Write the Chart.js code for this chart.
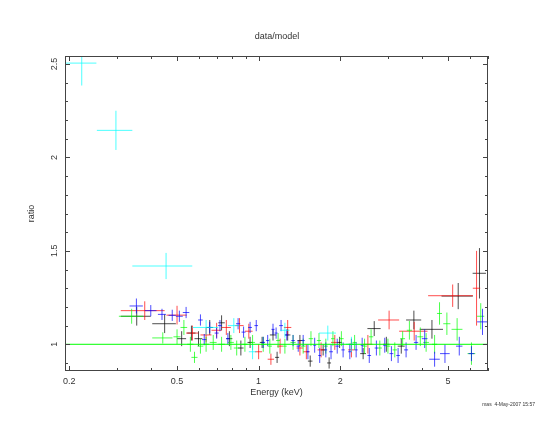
<!DOCTYPE html>
<html>
<head>
<meta charset="utf-8">
<script src="https://cdn.jsdelivr.net/npm/chart.js@4.4.1/dist/chart.umd.min.js"></script>
<style>
  html, body { margin: 0; padding: 0; background: #fff; }
</style>
</head>
<body>
<canvas id="graph" width="554" height="428"></canvas>
<script>
const ctx = document.getElementById("graph");

// tick values
const xMajor = [0.2, 0.5, 1, 2, 5];
const xMinor = [0.3, 0.4, 0.6, 0.7, 0.8, 0.9, 3, 4, 6, 7];
const yMajor = [1, 1.5, 2, 2.5];
const yMinor = [0.9, 1.1, 1.2, 1.3, 1.4, 1.6, 1.7, 1.8, 1.9, 2.1, 2.2, 2.3, 2.4];

// black
const blackE = [0.355, 0.45, 0.52, 0.565, 0.6, 0.66, 0.73, 0.78, 0.86, 0.93, 1.03, 1.13, 1.17, 1.28, 1.42, 1.55, 1.73, 1.82, 1.99, 2.2, 2.43, 2.67, 2.96, 3.36, 3.74, 4.36, 5.45, 6.53];
const blackDE = [0.045, 0.045, 0.02, 0.02, 0.02, 0.02, 0.02, 0.02, 0.02, 0.02, 0.02, 0.03, 0.02, 0.03, 0.03, 0.03, 0.03, 0.03, 0.04, 0.05, 0.06, 0.15, 0.08, 0.1, 0.24, 0.43, 0.72, 0.37];
const blackR = [1.15, 1.11, 1.03, 1.06, 1.03, 1.09, 1.115, 1.03, 0.98, 1.01, 1.01, 1.05, 0.93, 1.05, 1.02, 0.91, 0.97, 0.9, 1.01, 1.0, 0.95, 1.084, 1.0, 0.99, 1.13, 1.08, 1.258, 1.38];
const blackDR = [0.05, 0.05, 0.04, 0.04, 0.04, 0.04, 0.04, 0.04, 0.04, 0.03, 0.03, 0.03, 0.03, 0.03, 0.03, 0.03, 0.03, 0.03, 0.03, 0.03, 0.03, 0.04, 0.04, 0.04, 0.05, 0.05, 0.07, 0.135];

// red
const redE = [0.38, 0.5, 0.57, 0.64, 0.7, 0.76, 0.85, 0.92, 1.0, 1.11, 1.2, 1.28, 1.42, 1.5, 1.7, 1.91, 2.2, 2.53, 3.03, 3.75, 5.2, 6.37];
const redDE = [0.07, 0.043, 0.03, 0.03, 0.03, 0.03, 0.03, 0.03, 0.03, 0.03, 0.03, 0.04, 0.04, 0.04, 0.05, 0.06, 0.06, 0.1, 0.27, 0.45, 0.98, 0.2];
const redR = [1.18, 1.156, 1.06, 1.05, 1.075, 1.09, 1.1, 1.07, 0.96, 0.92, 0.99, 1.09, 0.98, 0.96, 0.97, 1.01, 0.97, 1.0, 1.13, 1.07, 1.26, 1.3];
const redDR = [0.05, 0.05, 0.04, 0.04, 0.04, 0.04, 0.04, 0.04, 0.04, 0.03, 0.04, 0.04, 0.04, 0.04, 0.04, 0.04, 0.04, 0.05, 0.05, 0.05, 0.06, 0.2];

// green
const greenE = [0.34, 0.443, 0.5, 0.53, 0.56, 0.58, 0.61, 0.64, 0.68, 0.73, 0.79, 0.83, 0.89, 0.95, 1.04, 1.1, 1.18, 1.25, 1.34, 1.46, 1.56, 1.67, 1.77, 1.88, 2.02, 2.26, 2.46, 2.6, 2.8, 3.0, 3.18, 3.4, 3.6, 3.95, 4.15, 4.46, 4.65, 4.95, 5.4, 6.1, 6.6];
const greenDE = [0.035, 0.038, 0.015, 0.015, 0.015, 0.015, 0.015, 0.015, 0.02, 0.02, 0.02, 0.02, 0.02, 0.02, 0.02, 0.02, 0.02, 0.02, 0.03, 0.03, 0.03, 0.03, 0.03, 0.03, 0.04, 0.04, 0.05, 0.05, 0.05, 0.06, 0.06, 0.07, 0.08, 0.1, 0.1, 0.1, 0.1, 0.15, 0.25, 0.2, 0.2];
const greenR = [1.15, 1.034, 1.04, 1.09, 1.0, 0.93, 0.99, 1.0, 1.01, 1.0, 1.01, 0.98, 1.0, 1.01, 1.0, 0.99, 1.02, 0.99, 1.01, 0.99, 1.03, 1.02, 0.99, 1.03, 1.03, 1.01, 0.99, 1.04, 0.98, 0.99, 0.97, 1.03, 1.075, 1.04, 1.01, 1.0, 1.165, 1.11, 1.08, 0.95, 1.15];
const greenDR = [0.04, 0.03, 0.04, 0.04, 0.04, 0.03, 0.04, 0.04, 0.04, 0.04, 0.04, 0.04, 0.04, 0.04, 0.04, 0.04, 0.04, 0.04, 0.04, 0.04, 0.04, 0.04, 0.04, 0.04, 0.04, 0.04, 0.04, 0.04, 0.04, 0.04, 0.04, 0.04, 0.05, 0.05, 0.05, 0.05, 0.06, 0.06, 0.06, 0.06, 0.07];

// blue
const blueE = [0.354, 0.4, 0.44, 0.48, 0.51, 0.54, 0.61, 0.63, 0.66, 0.7, 0.72, 0.77, 0.84, 0.88, 0.93, 0.98, 1.04, 1.08, 1.13, 1.16, 1.21, 1.27, 1.34, 1.4, 1.46, 1.52, 1.61, 1.68, 1.77, 1.85, 1.95, 2.05, 2.17, 2.29, 2.41, 2.56, 2.72, 2.92, 3.09, 3.27, 3.5, 3.81, 4.1, 4.46, 4.87, 5.5, 6.1, 6.7];
const blueDE = [0.02, 0.02, 0.015, 0.015, 0.015, 0.015, 0.012, 0.012, 0.012, 0.012, 0.012, 0.012, 0.015, 0.015, 0.015, 0.015, 0.015, 0.015, 0.015, 0.015, 0.02, 0.02, 0.02, 0.02, 0.02, 0.02, 0.02, 0.02, 0.02, 0.03, 0.03, 0.03, 0.03, 0.03, 0.03, 0.04, 0.04, 0.04, 0.05, 0.05, 0.06, 0.07, 0.1, 0.2, 0.2, 0.15, 0.15, 0.3];
const blueR = [1.205, 1.18, 1.16, 1.155, 1.15, 1.17, 1.13, 1.025, 1.09, 1.06, 1.1, 1.03, 1.11, 1.065, 1.09, 1.1, 1.01, 1.02, 1.08, 1.06, 1.1, 1.05, 1.02, 0.99, 1.02, 0.96, 0.995, 0.94, 0.97, 0.96, 0.99, 0.97, 0.96, 0.97, 0.995, 0.94, 0.98, 0.995, 0.95, 0.94, 0.97, 1.01, 1.03, 0.92, 0.95, 0.99, 0.95, 1.12];
const blueDR = [0.04, 0.03, 0.03, 0.03, 0.03, 0.03, 0.03, 0.03, 0.03, 0.03, 0.03, 0.03, 0.03, 0.03, 0.03, 0.03, 0.03, 0.03, 0.03, 0.03, 0.03, 0.03, 0.03, 0.03, 0.03, 0.04, 0.04, 0.04, 0.04, 0.04, 0.04, 0.04, 0.04, 0.04, 0.04, 0.04, 0.04, 0.04, 0.04, 0.04, 0.04, 0.04, 0.05, 0.04, 0.05, 0.05, 0.04, 0.07];

// cyan
const cyanE = [0.2225, 0.2975, 0.4555, 0.64, 0.81, 0.95, 1.25, 1.8, 2.2];
const cyanDE = [0.0295, 0.0445, 0.1135, 0.07, 0.04, 0.03, 0.05, 0.13, 0.1];
const cyanR = [2.505, 2.145, 1.419, 1.09, 1.1, 0.96, 1.075, 1.06, 1.0];
const cyanDR = [0.12, 0.105, 0.07, 0.04, 0.04, 0.04, 0.04, 0.04, 0.04];

// model
const modelE = [0.18, 7.5];
const modelR = [1, 1];

const series = [
  { e: blackE, de: blackDE, r: blackR, dr: blackDR, color: "#000000", order: 5 },
  { e: redE, de: redDE, r: redR, dr: redDR, color: "#ff0000", order: 4 },
  { e: greenE, de: greenDE, r: greenR, dr: greenDR, color: "#00ff00", order: 3 },
  { e: blueE, de: blueDE, r: blueR, dr: blueDR, color: "#0000ff", order: 2 },
  { e: cyanE, de: cyanDE, r: cyanR, dr: cyanDR, color: "#00ffff", order: 1 },
];

const datasets = series.map((s) => ({
  type: "scatter",
  data: s.e.map((e, i) => ({ x: e, y: s.r[i], dx: s.de[i], dy: s.dr[i] })),
  borderColor: s.color,
  backgroundColor: s.color,
  pointRadius: 0,
  showLine: false,
  order: s.order,
  errorBars: true,
}));

datasets.push({
  type: "line",
  data: modelE.map((e, i) => ({ x: e, y: modelR[i] })),
  borderColor: "#00ff00",
  borderWidth: 1,
  pointRadius: 0,
  order: 0,
});

const font = { family: '"Liberation Sans", Arial, sans-serif', size: 9, weight: "normal" };
const ink = "#333333";

// crosses: x error and y error for each point
const errorBars = {
  id: "errorBars",
  afterDatasetDraw(chart, args) {
    const ds = chart.data.datasets[args.index];
    if (!ds.errorBars) return;
    const { ctx, chartArea: a, scales: { x, y } } = chart;
    ctx.save();
    ctx.beginPath();
    ctx.rect(a.left, a.top, a.right - a.left, a.bottom - a.top);
    ctx.clip();
    ctx.globalAlpha = 0.7;
    ctx.strokeStyle = ds.borderColor;
    ctx.lineWidth = 1;
    ctx.beginPath();
    ds.data.forEach((p) => {
      const px = x.getPixelForValue(p.x);
      const py = y.getPixelForValue(p.y);
      ctx.moveTo(x.getPixelForValue(p.x - p.dx), py);
      ctx.lineTo(x.getPixelForValue(p.x + p.dx), py);
      ctx.moveTo(px, y.getPixelForValue(p.y - p.dy));
      ctx.lineTo(px, y.getPixelForValue(p.y + p.dy));
    });
    ctx.stroke();
    ctx.restore();
  },
  afterDraw(chart) {
    const { ctx, chartArea: a, scales: { x, y } } = chart;
    ctx.save();
    ctx.strokeStyle = "#444444";
    ctx.lineWidth = 1;
    ctx.strokeRect(a.left + 0.5, a.top + 0.5, a.right - a.left - 1, a.bottom - a.top - 1);
    ctx.beginPath();
    const xt = (v, len) => {
      const px = Math.round(x.getPixelForValue(v)) + 0.5;
      ctx.moveTo(px, a.bottom); ctx.lineTo(px, a.bottom - len);
      ctx.moveTo(px, a.top); ctx.lineTo(px, a.top + len);
    };
    const yt = (v, len) => {
      const py = Math.round(y.getPixelForValue(v)) + 0.5;
      ctx.moveTo(a.left, py); ctx.lineTo(a.left + len, py);
      ctx.moveTo(a.right, py); ctx.lineTo(a.right - len, py);
    };
    xMajor.forEach((v) => xt(v, 5));
    xMinor.forEach((v) => xt(v, 3));
    yMajor.forEach((v) => yt(v, 5));
    yMinor.forEach((v) => yt(v, 3));
    ctx.stroke();

    // rotated y tick labels
    ctx.fillStyle = ink;
    ctx.font = font.size + "px " + font.family;
    ctx.textAlign = "center";
    ctx.textBaseline = "middle";
    yMajor.forEach((v) => {
      ctx.save();
      ctx.translate(a.left - 10, y.getPixelForValue(v));
      ctx.rotate(-Math.PI / 2);
      ctx.fillText(String(v), 0, 0);
      ctx.restore();
    });

    ctx.font = "5px " + font.family;
    ctx.textAlign = "right";
    ctx.fillText("mas  4-May-2007 15:57", 535, 405);
    ctx.restore();
  },
};

new Chart(ctx, {
  type: "scatter",
  data: { datasets: datasets },
  plugins: [errorBars],
  options: {
    responsive: false,
    animation: false,
    layout: { padding: 0 },
    plugins: {
      legend: { display: false },
      tooltip: { enabled: false },
      title: {
        display: true,
        text: "data/model",
        color: ink,
        font: font,
        padding: { top: 31, bottom: 14.2 },
      },
    },
    scales: {
      x: {
        type: "logarithmic",
        min: 0.193,
        max: 7.02,
        afterBuildTicks: (scale) => {
          scale.ticks = xMajor.concat(xMinor).sort((a, b) => a - b).map((v) => ({ value: v }));
        },
        afterFit: (scale) => { scale.height = 57; },
        ticks: {
          autoSkip: false,
          maxRotation: 0,
          padding: 5,
          color: ink,
          font: font,
          callback: (value) => (xMajor.includes(value) ? String(value) : ""),
        },
        grid: { display: false, drawTicks: false },
        border: { display: false },
        title: {
          display: true,
          text: "Energy (keV)",
          color: ink,
          font: font,
          padding: { top: 0, bottom: 30 },
        },
      },
      y: {
        min: 0.857,
        max: 2.543,
        afterFit: (scale) => { scale.width = 65; },
        ticks: { display: false },
        grid: { display: false, drawTicks: false },
        border: { display: false },
        title: {
          display: true,
          text: "ratio",
          color: ink,
          font: font,
          padding: { top: 26, bottom: 0 },
        },
      },
      y2: {
        position: "right",
        afterFit: (scale) => { scale.width = 66; },
        ticks: { display: false },
        grid: { display: false, drawTicks: false },
        border: { display: false },
      },
    },
  },
});
</script>
</body>
</html>
